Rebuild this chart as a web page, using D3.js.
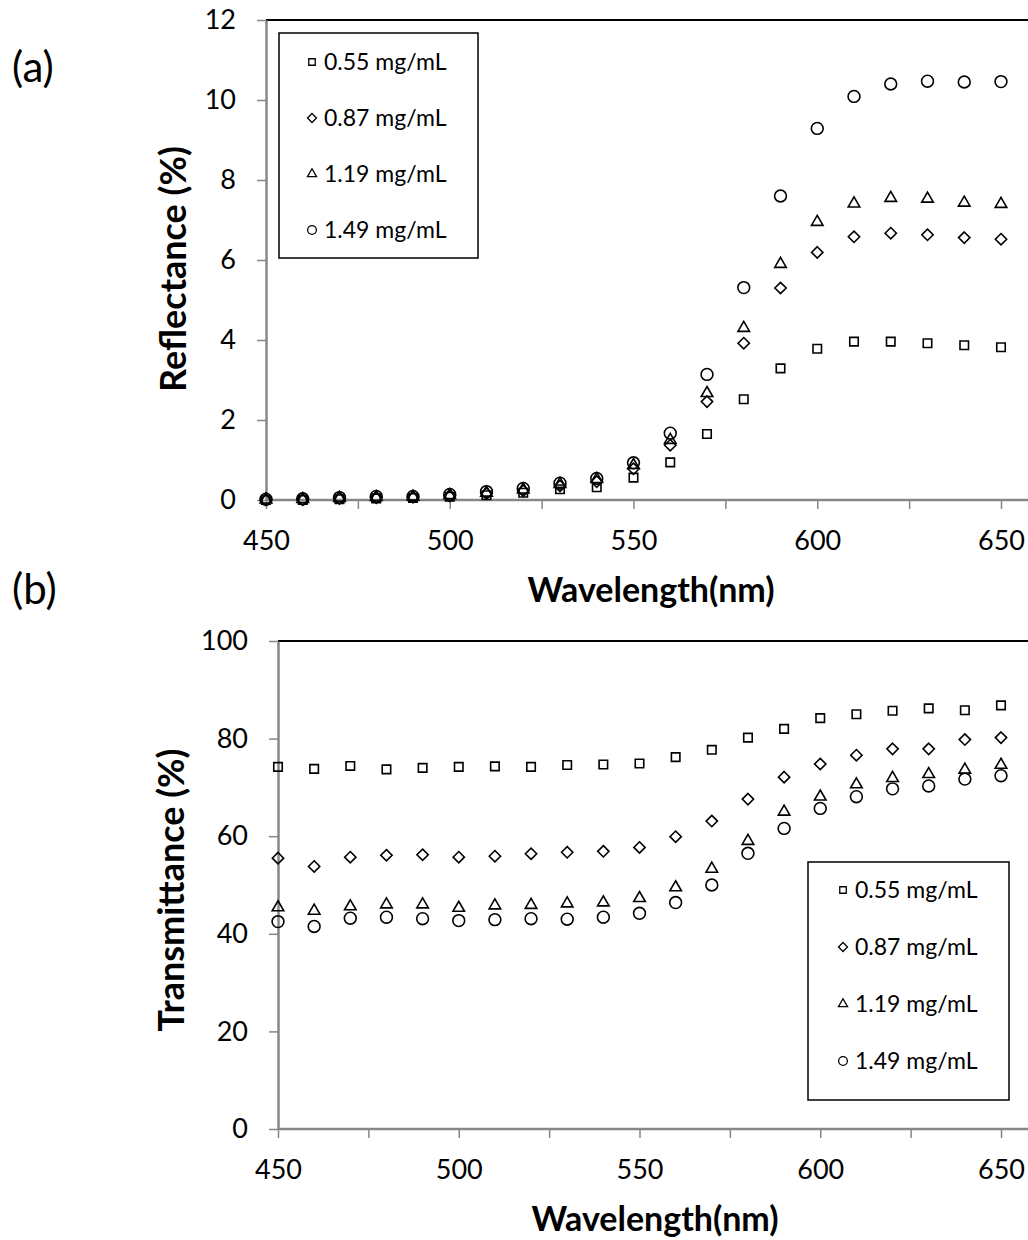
<!DOCTYPE html>
<html>
<head>
<meta charset="utf-8">
<script src="https://cdn.jsdelivr.net/npm/d3@7"></script>
<style>
  body { margin: 0; background: #fff; }
  svg { display: block; font-family: Lato, 'Open Sans', sans-serif; }
</style>
</head>
<body>
<svg id="chart" width="1028" height="1240"></svg>
<script>
// wavelengths (nm)
const wavelengths = [450, 460, 470, 480, 490, 500, 510, 520, 530, 540, 550, 560, 570, 580, 590, 600, 610, 620, 630, 640, 650];

const seriesNames = ['0.55 mg/mL', '0.87 mg/mL', '1.19 mg/mL', '1.49 mg/mL'];

// (a) reflectance (%)
const refl055 = [0.00, 0.00, 0.02, 0.04, 0.05, 0.08, 0.12, 0.18, 0.27, 0.32, 0.56, 0.94, 1.65, 2.52, 3.29, 3.78, 3.96, 3.96, 3.92, 3.87, 3.82];
const refl087 = [0.00, 0.01, 0.04, 0.06, 0.07, 0.10, 0.16, 0.23, 0.35, 0.46, 0.78, 1.37, 2.46, 3.92, 5.30, 6.19, 6.58, 6.67, 6.63, 6.56, 6.52];
const refl119 = [0.01, 0.02, 0.05, 0.07, 0.08, 0.12, 0.18, 0.26, 0.40, 0.52, 0.87, 1.50, 2.67, 4.30, 5.90, 6.95, 7.41, 7.55, 7.53, 7.43, 7.40];
const refl149 = [0.02, 0.03, 0.06, 0.09, 0.09, 0.14, 0.21, 0.29, 0.42, 0.54, 0.93, 1.67, 3.14, 5.31, 7.60, 9.29, 10.09, 10.40, 10.47, 10.45, 10.46];

// (b) transmittance (%)
const trans055 = [74.2, 73.8, 74.4, 73.7, 74.0, 74.2, 74.3, 74.2, 74.6, 74.7, 74.9, 76.2, 77.7, 80.2, 82.0, 84.2, 85.0, 85.7, 86.2, 85.8, 86.8];
const trans087 = [55.5, 53.8, 55.7, 56.1, 56.2, 55.7, 55.9, 56.4, 56.7, 56.9, 57.7, 59.9, 63.1, 67.6, 72.1, 74.8, 76.6, 77.9, 77.9, 79.8, 80.2];
const trans119 = [45.4, 44.7, 45.6, 46.0, 46.0, 45.3, 45.8, 45.9, 46.2, 46.4, 47.3, 49.5, 53.3, 59.0, 65.0, 68.1, 70.6, 71.9, 72.7, 73.6, 74.6];
const trans149 = [42.5, 41.5, 43.2, 43.4, 43.1, 42.7, 42.9, 43.1, 43.0, 43.4, 44.2, 46.4, 50.0, 56.5, 61.6, 65.7, 68.1, 69.7, 70.3, 71.7, 72.4];

const xTicks = [450, 475, 500, 525, 550, 575, 600, 625, 650];
const xLabels = [450, 500, 550, 600, 650];
const reflTicks = [0, 2, 4, 6, 8, 10, 12];
const transTicks = [0, 20, 40, 60, 80, 100];

const svg = d3.select('#chart');
const axisGrey = '#878787';

// square rotated 45 degrees, like the Excel diamond marker
const symbolDiamond45 = {
  draw(context, size) {
    const r = Math.sqrt(size / 2);
    context.moveTo(0, -r);
    context.lineTo(r, 0);
    context.lineTo(0, r);
    context.lineTo(-r, 0);
    context.closePath();
  }
};
const shapes = [
  { type: d3.symbolSquare, size: 72, legendSize: 42 },
  { type: symbolDiamond45, size: 64, legendSize: 40 },
  { type: d3.symbolTriangle, size: 58, legendSize: 36 },
  { type: d3.symbolCircle, size: 110, legendSize: 60 }
];

function drawPanel(cfg) {
  const x = d3.scaleLinear().domain([450, 650]).range([cfg.left, cfg.x650]);
  const y = d3.scaleLinear().domain(cfg.yDomain).range([cfg.bottom, cfg.top]);
  const g = svg.append('g');

  // top border of the plot area
  g.append('line')
    .attr('x1', cfg.left).attr('x2', 1028)
    .attr('y1', cfg.top).attr('y2', cfg.top)
    .attr('stroke', '#000').attr('stroke-width', 2);

  const yAxis = g.append('g')
    .attr('transform', `translate(${cfg.left},0)`)
    .call(d3.axisLeft(y).tickValues(cfg.yTicks).tickSize(9).tickPadding(21).tickSizeOuter(0));
  yAxis.select('.domain').attr('stroke', axisGrey).attr('stroke-width', 2.5);
  yAxis.selectAll('.tick line').attr('stroke', axisGrey).attr('stroke-width', 1.5);
  yAxis.selectAll('.tick text').attr('font-size', 27).attr('fill', '#000').attr('font-family', 'Lato');

  const xAxis = g.append('g')
    .attr('transform', `translate(0,${cfg.bottom})`)
    .call(d3.axisBottom(x).tickValues(xTicks).tickSize(9).tickPadding(22).tickSizeOuter(0)
      .tickFormat(d => xLabels.includes(d) ? d : ''));
  xAxis.select('.domain').attr('d', `M${cfg.left},0H1028`).attr('stroke', axisGrey).attr('stroke-width', 2.5);
  xAxis.selectAll('.tick line').attr('stroke', axisGrey).attr('stroke-width', 1.5);
  xAxis.selectAll('.tick text').attr('font-size', 27).attr('fill', '#000').attr('font-family', 'Lato');

  g.append('text')
    .attr('x', cfg.xTitleX).attr('y', cfg.bottom + 102)
    .attr('text-anchor', 'middle')
    .attr('font-size', 34).attr('font-weight', 'bold')
    .text('Wavelength(nm)');

  g.append('text')
    .attr('transform', `translate(${cfg.yTitleX},${cfg.yTitleY}) rotate(-90)`)
    .attr('text-anchor', 'middle')
    .attr('font-size', 36).attr('font-weight', 'bold')
    .text(cfg.yTitle);

  g.append('text')
    .attr('x', 12).attr('y', cfg.panelY)
    .attr('font-size', 42)
    .text(cfg.panel);

  cfg.series.forEach((vals, i) => {
    const sym = d3.symbol().type(shapes[i].type).size(shapes[i].size);
    g.append('g')
      .selectAll('path')
      .data(wavelengths.map((w, j) => ({ w, v: vals[j] })))
      .join('path')
      .attr('d', sym)
      .attr('transform', d => `translate(${x(d.w)},${y(d.v)})`)
      .attr('fill', 'none')
      .attr('stroke', '#000')
      .attr('stroke-width', 1.6);
  });

  // legend
  const lg = g.append('g').attr('transform', `translate(${cfg.legend.x},${cfg.legend.y})`);
  lg.append('rect')
    .attr('width', cfg.legend.w).attr('height', cfg.legend.h)
    .attr('fill', '#fff').attr('stroke', '#000').attr('stroke-width', 1.5);
  seriesNames.forEach((name, i) => {
    const row = lg.append('g').attr('transform', `translate(0,${cfg.legend.first + i * cfg.legend.step})`);
    row.append('path')
      .attr('d', d3.symbol().type(shapes[i].type).size(shapes[i].legendSize))
      .attr('transform', `translate(${cfg.legend.markerX},0)`)
      .attr('fill', 'none').attr('stroke', '#000').attr('stroke-width', 1.3);
    row.append('text')
      .attr('x', cfg.legend.markerX + 12).attr('dy', '0.35em')
      .attr('font-size', 23)
      .text(name);
  });
}

drawPanel({
  panel: '(a)', panelY: 82,
  left: 266, x650: 1001, top: 20, bottom: 500,
  yDomain: [0, 12], yTicks: reflTicks,
  yTitle: 'Reflectance (%)', yTitleX: 186, yTitleY: 269,
  xTitleX: 651,
  series: [refl055, refl087, refl119, refl149],
  legend: { x: 279, y: 33, w: 199, h: 225, first: 29, step: 56, markerX: 33 }
});

drawPanel({
  panel: '(b)', panelY: 604,
  left: 278, x650: 1001, top: 641, bottom: 1129,
  yDomain: [0, 100], yTicks: transTicks,
  yTitle: 'Transmittance (%)', yTitleX: 184, yTitleY: 890,
  xTitleX: 655,
  series: [trans055, trans087, trans119, trans149],
  legend: { x: 808, y: 862, w: 201, h: 238, first: 28, step: 57, markerX: 35 }
});
</script>
</body>
</html>
